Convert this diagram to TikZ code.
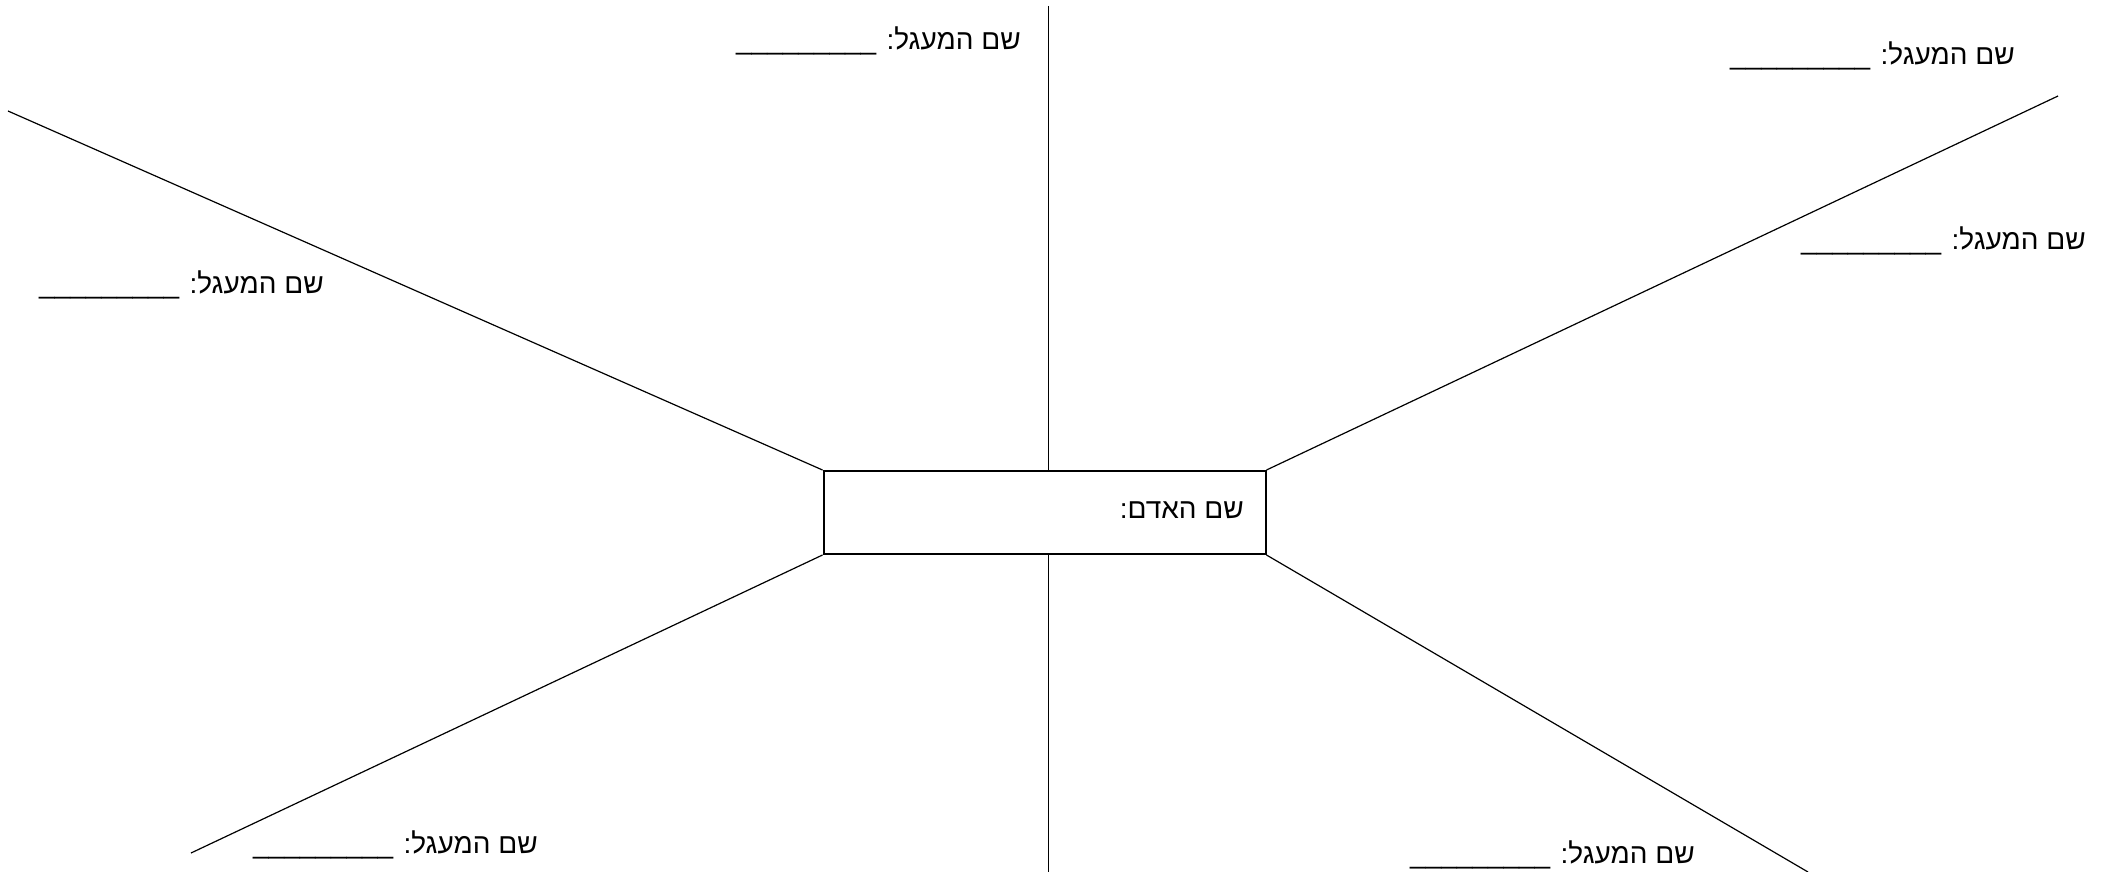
\documentclass[tikz,border=0pt]{standalone}
\usepackage{fontspec}
\setmainfont{Liberation Sans}
\newfontfamily\hebfont[Script=Hebrew]{Liberation Sans}
\TeXXeTstate=1
\usetikzlibrary{calc}

\newcommand{\blankline}{\_\_\_\_\_\_\_\_\_}
\newcommand{\circlename}{\hebfont\beginR שם המעגל: \blankline\endR}

\tikzset{
  spoke/.style={line width=1.2pt},
  personbox/.style={draw, line width=2pt, minimum width=442pt, minimum height=83pt, inner sep=0pt},
  circlelabel/.style={anchor=base east, inner sep=0pt, font=\fontsize{28}{32}\selectfont}
}

\begin{document}
\begin{tikzpicture}[x=1pt,y=-1pt]
  \useasboundingbox (0,0) rectangle (2107,872);
  \node[personbox] (adam) at (1044.5,512.5) {};
  \node[circlelabel] (adamname) at (1244,518) {\hebfont\beginR שם האדם:\endR};

  \coordinate (ul) at (8,111);
  \coordinate (ur) at (2058,96);
  \coordinate (ll) at (191,853);
  \coordinate (lr) at (1808,872);
  \coordinate (vt) at (1048.5,6);
  \coordinate (vb) at (1048.5,872);

  \draw[spoke] (adam.north west) -- (ul);
  \draw[spoke] (adam.north east) -- (ur);
  \draw[spoke] (adam.south west) -- (ll);
  \draw[spoke] (adam.south east) -- (lr);
  \draw[spoke] (vt) -- (vt |- adam.north);
  \draw[spoke] (vb) -- (vb |- adam.south);

  \node[circlelabel] (top) at (1021,50) {\circlename};
  \node[circlelabel] (topright) at (2015,65) {\circlename};
  \node[circlelabel] (right) at (2086,249) {\circlename};
  \node[circlelabel] (left) at (324,293) {\circlename};
  \node[circlelabel] (bottomleft) at (538,853) {\circlename};
  \node[circlelabel] (bottomright) at (1695,863) {\circlename};
\end{tikzpicture}
\end{document}
